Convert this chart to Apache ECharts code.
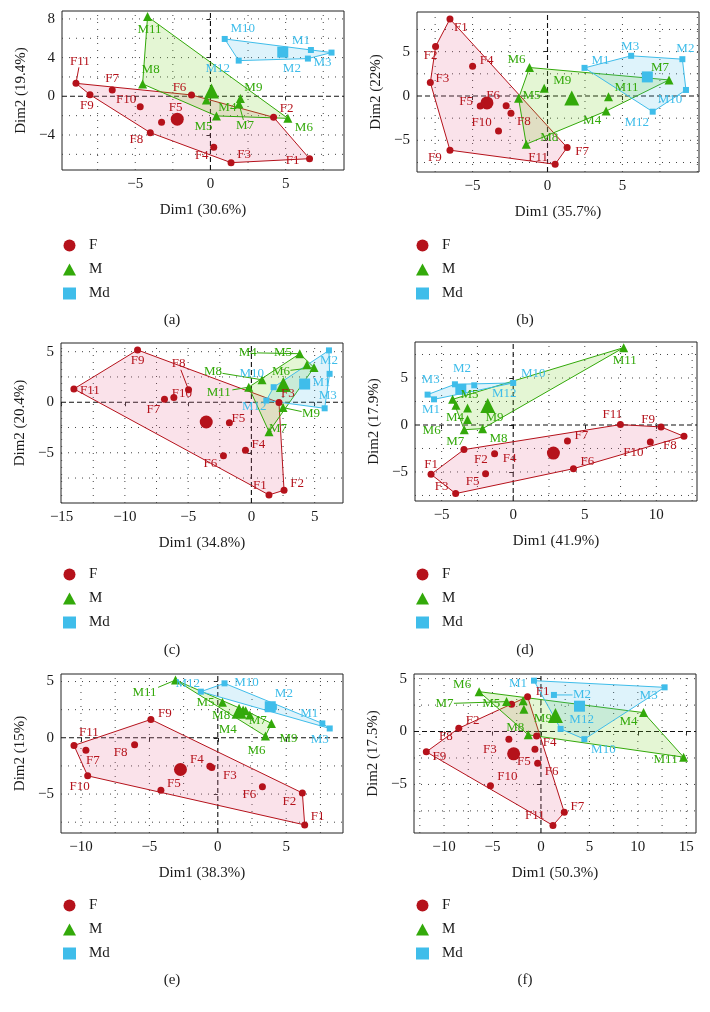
<!DOCTYPE html>
<html><head><meta charset="utf-8">
<script src="https://cdn.jsdelivr.net/npm/echarts@6/dist/echarts.min.js"></script>
<style>html,body{margin:0;padding:0;background:#fff}#c{width:710px;height:1012px}</style>
</head><body><div id="c"></div>
<script>
// ---------- data ----------
const F_NAMES = ['F1','F2','F3','F4','F5','F6','F7','F8','F9','F10','F11'];
const M_NAMES = ['M4','M5','M6','M7','M8','M9','M11'];
const MD_NAMES = ['M1','M2','M3','M10','M12'];
const GROUPS = ['F','M','Md'];

// panel (a)
const a_F  = [[6.59,-6.45],[4.2,-2.17],[1.37,-6.86],[0.22,-5.28],[-3.25,-2.69],[-1.26,0.14],[-6.53,0.66],[-4.0,-3.76],[-8.01,0.17],[-4.67,-1.07],[-8.94,1.34]];
const a_M  = [[-0.27,-0.38],[0.4,-2.03],[5.15,-2.28],[1.9,-0.79],[-4.51,1.28],[1.99,-0.24],[-4.18,8.24]];
const a_Md = [[6.68,4.79],[6.48,3.9],[8.05,4.52],[0.95,5.93],[1.88,3.69]];
// panel (b)
const b_F  = [[-6.51,8.68],[-7.47,5.58],[-7.82,1.51],[-5.0,3.36],[-4.49,-1.13],[-2.76,-1.09],[1.31,-5.81],[-2.44,-1.96],[-6.51,-6.11],[-3.27,-3.96],[0.51,-7.7]];
const b_M  = [[3.91,-1.7],[-1.93,-0.26],[-1.2,3.21],[8.11,1.81],[-1.42,-5.43],[-0.22,0.87],[4.07,-0.08]];
const b_Md = [[2.47,3.17],[9.0,4.15],[5.58,4.53],[9.24,0.68],[7.02,-1.77]];
// panel (c)
const c_F  = [[1.39,-9.17],[2.58,-8.71],[2.18,-0.03],[-0.47,-4.74],[-1.74,-2.02],[-2.21,-5.3],[-6.87,0.3],[-4.97,1.23],[-9.0,5.17],[-6.13,0.46],[-14.03,1.32]];
const c_M  = [[3.82,4.8],[4.39,3.71],[4.95,3.44],[1.39,-2.91],[0.84,2.22],[2.5,-0.53],[-0.21,1.49]];
const c_Md = [[6.18,2.81],[6.13,5.13],[5.79,-0.6],[1.76,1.49],[1.18,0.17]];
// panel (d)
const d_F  = [[-5.74,-5.25],[-3.44,-2.62],[-4.02,-7.3],[-1.3,-3.05],[-1.93,-5.18],[4.21,-4.65],[3.79,-1.7],[11.93,-1.21],[10.33,-0.21],[9.58,-1.81],[7.49,0.04]];
const d_M  = [[-4.0,2.09],[-3.19,1.81],[-4.23,2.73],[-3.42,-0.5],[-2.14,-0.39],[-3.19,0.57],[7.72,8.23]];
const d_Md = [[-5.53,2.73],[-4.07,4.33],[-5.98,3.23],[0.0,4.47],[-2.72,4.22]];
// panel (e)
const e_F  = [[6.35,-7.74],[6.18,-4.9],[-0.44,-2.64],[-0.58,-2.52],[-4.16,-4.66],[3.26,-4.36],[-9.64,-1.1],[-6.08,-0.62],[-4.89,1.63],[-9.51,-3.38],[-10.51,-0.68]];
const e_M  = [[2.34,2.02],[0.34,3.15],[3.48,0.15],[2.04,2.4],[1.85,2.46],[3.92,1.28],[-3.09,5.13]];
const e_Md = [[7.64,1.28],[4.1,2.75],[8.18,0.83],[0.49,4.84],[-1.24,4.1]];
// panel (f)
const f_F  = [[-1.38,3.3],[-3.03,2.58],[-3.31,-0.72],[-0.45,-0.41],[-0.62,-1.67],[-0.34,-2.99],[2.41,-7.64],[-8.48,0.31],[-11.83,-1.92],[-5.21,-5.13],[1.24,-8.87]];
const f_M  = [[10.59,1.79],[-1.83,2.92],[-6.38,3.77],[-3.55,2.83],[-1.31,-0.31],[-1.76,2.11],[14.72,-2.42]];
const f_Md = [[-0.72,4.81],[1.34,3.46],[12.76,4.18],[4.48,-0.72],[2.03,0.25]];

// tick labels
const a_xTicks=[-5,0,5],   a_yTicks=[-4,0,4,8];
const b_xTicks=[-5,0,5],   b_yTicks=[-5,0,5];
const c_xTicks=[-15,-10,-5,0,5], c_yTicks=[-5,0,5];
const d_xTicks=[-5,0,5,10], d_yTicks=[-5,0,5];
const e_xTicks=[-10,-5,0,5], e_yTicks=[-5,0,5];
const f_xTicks=[-10,-5,0,5,10,15], f_yTicks=[-5,0,5];

const X_TITLES=['Dim1 (30.6%)','Dim1 (35.7%)','Dim1 (34.8%)','Dim1 (41.9%)','Dim1 (38.3%)','Dim1 (50.3%)'];
const Y_TITLES=['Dim2 (19.4%)','Dim2 (22%)','Dim2 (20.4%)','Dim2 (17.9%)','Dim2 (15%)','Dim2 (17.5%)'];
const CAPTIONS=['(a)','(b)','(c)','(d)','(e)','(f)'];

// ---------- presentation ----------
const LABEL_OFF = {
 a:{F1:[-17,2],F2:[13,-9],F3:[13,-8],F4:[-12,8],F5:[14,-15],F6:[-12,-7],F7:[0,-11],F8:[-14,7],F9:[-3,11],F10:[-14,-7],F11:[4,-22],
    M4:[21,8],M5:[-13,11],M6:[16,9],M7:[6,22],M8:[8,-14],M9:[13,-11],M11:[2,13],
    M1:[-10,-9],M2:[-16,10],M3:[-9,10],M10:[18,-10],M12:[-21,8]},
 b:{F1:[11,9],F2:[-5,9],F3:[12,-4],F4:[14,-6],F5:[-14,-4],F6:[-13,-10],F7:[15,4],F8:[13,8],F9:[-15,7],F10:[-17,-9],F11:[-17,-7],
    M4:[-14,10],M5:[13,-3],M6:[-13,-8],M7:[-9,-12],M8:[23,-7],M9:[18,-8],M11:[18,-9],
    M1:[16,-7],M2:[3,-11],M3:[-1,-9],M10:[-16,10],M12:[-16,11]},
 c:{F1:[-9,-9],F2:[13,-7],F3:[9,-9],F4:[13,-6],F5:[9,-4],F6:[-13,8],F7:[-11,10],F8:[-10,-26],F9:[0,11],F10:[8,-4],F11:[16,2],
    M4:[-52,-1],M5:[-24,-12],M6:[-33,4],M7:[9,-3],M8:[-49,-8],M9:[28,6],M11:[-30,5],
    M1:[-8,9],M2:[0,10],M3:[3,-13],M10:[-22,-14],M12:[-12,6]},
 d:{F1:[0,-10],F2:[17,10],F3:[-14,-7],F4:[15,5],F5:[-13,8],F6:[14,-7],F7:[14,-5],F8:[-14,9],F9:[-13,-7],F10:[-17,11],F11:[-8,-10],
    M4:[-1,12],M5:[2,-13],M6:[-21,31],M7:[-9,12],M8:[16,10],M9:[27,-2],M11:[1,13],
    M1:[-3,10],M2:[7,-16],M3:[3,-15],M10:[20,-9],M12:[30,8]},
 e:{F1:[13,-8],F2:[-13,9],F3:[18,8],F4:[-13,-7],F5:[13,-7],F6:[-13,8],F7:[7,10],F8:[-14,8],F9:[14,-6],F10:[-8,11],F11:[15,-13],
    M4:[-22,15],M5:[-17,0],M6:[-9,14],M7:[12,10],M8:[-22,5],M9:[17,15],M11:[-31,13],
    M1:[-13,-10],M2:[10,-13],M3:[-10,11],M10:[22,-1],M12:[-13,-8]},
 f:{F1:[15,-5],F2:[-39,16],F3:[-19,10],F4:[13,7],F5:[-11,12],F6:[14,8],F7:[13,-6],F8:[-13,8],F9:[13,5],F10:[17,-9],F11:[-18,-10],
    M4:[-15,9],M5:[-32,3],M6:[-17,-7],M7:[-62,2],M8:[-13,-7],M9:[19,9],M11:[-18,2],
    M1:[-16,3],M2:[28,0],M3:[-16,8],M10:[19,10],M12:[21,-9]}
};
const LEADERS = {a:['F11','M7'], b:[], c:['F8','M4','M6','M8','M11','M9'], d:[], e:['M11'], f:['M7','M2']};

const PANELS = [
 {key:'a', data:[a_F,a_M,a_Md], xt:a_xTicks, yt:a_yTicks, left:62, top:11, w:282, h:159, xr:[-9.87,8.88], yr:[-7.62,8.82], xs:2.5, ys:2, lx:63, ly:238, cx:172, cy:320},
 {key:'b', data:[b_F,b_M,b_Md], xt:b_xTicks, yt:b_yTicks, left:417, top:12, w:282, h:160, xr:[-8.71,10.11], yr:[-8.57,9.47], xs:2.5, ys:2.5, lx:416, ly:238, cx:525, cy:320},
 {key:'c', data:[c_F,c_M,c_Md], xt:c_xTicks, yt:c_yTicks, left:61, top:343, w:282, h:160, xr:[-15.05,7.24], yr:[-9.97,5.86], xs:2.5, ys:2.5, lx:63, ly:567, cx:172, cy:650},
 {key:'d', data:[d_F,d_M,d_Md], xt:d_xTicks, yt:d_yTicks, left:415, top:342, w:282, h:159, xr:[-6.86,12.84], yr:[-8.09,8.83], xs:2.5, ys:2.5, lx:416, ly:567, cx:525, cy:650},
 {key:'e', data:[e_F,e_M,e_Md], xt:e_xTicks, yt:e_yTicks, left:61, top:674, w:282, h:159, xr:[-11.46,9.15], yr:[-8.46,5.67], xs:2.5, ys:2.5, lx:63, ly:898, cx:172, cy:980},
 {key:'f', data:[f_F,f_M,f_Md], xt:f_xTicks, yt:f_yTicks, left:414, top:674, w:282, h:159, xr:[-13.1,16.0], yr:[-9.59,5.44], xs:2.5, ys:2.5, lx:416, ly:898, cx:525, cy:980}
];
const NAMES = [F_NAMES, M_NAMES, MD_NAMES];
const COLORS = ['#B5121B','#33A90A','#3FBDEA'];
const FILLS = ['rgba(232,110,150,0.20)','rgba(120,210,40,0.20)','rgba(70,190,235,0.18)'];
const SYMBOLS = ['circle','triangle','rect'];
const SIZES = [7,9,6];
const MEAN_SIZES = [13,15,11];
const FONT = "'Liberation Serif','DejaVu Serif',serif";
const TXT = '#1a1a1a';

function hull(pts){
  const p = pts.slice().sort((a,b)=>a[0]-b[0]||a[1]-b[1]);
  const cross=(o,a,b)=>(a[0]-o[0])*(b[1]-o[1])-(a[1]-o[1])*(b[0]-o[0]);
  const lo=[],up=[];
  for(const q of p){while(lo.length>=2&&cross(lo[lo.length-2],lo[lo.length-1],q)<=0)lo.pop();lo.push(q);}
  for(let i=p.length-1;i>=0;i--){const q=p[i];while(up.length>=2&&cross(up[up.length-2],up[up.length-1],q)<=0)up.pop();up.push(q);}
  up.pop();lo.pop();return lo.concat(up);
}
const mean = pts => [pts.reduce((s,q)=>s+q[0],0)/pts.length, pts.reduce((s,q)=>s+q[1],0)/pts.length];
const minus = v => String(v).replace('-', '\u2212');

const option = {animation:false, backgroundColor:'#fff', grid:[], xAxis:[], yAxis:[], series:[], legend:[], graphic:[]};

PANELS.forEach((P, i) => {
  option.grid.push({left:P.left, top:P.top, width:P.w, height:P.h, show:true, borderColor:'#222', borderWidth:1, backgroundColor:'transparent', containLabel:false});
  option.xAxis.push({gridIndex:i, type:'value', min:P.xr[0], max:P.xr[1],
    axisLine:{show:false}, splitLine:{show:false},
    axisTick:{show:true, length:4, customValues:P.xt, lineStyle:{color:'#222'}},
    axisLabel:{customValues:P.xt, formatter:minus, color:TXT, fontFamily:FONT, fontSize:15, margin:7},
    name:X_TITLES[i], nameLocation:'middle', nameGap:33, nameTextStyle:{color:TXT, fontFamily:FONT, fontSize:15}});
  option.yAxis.push({gridIndex:i, type:'value', min:P.yr[0], max:P.yr[1],
    axisLine:{show:false}, splitLine:{show:false},
    axisTick:{show:true, length:4, customValues:P.yt, lineStyle:{color:'#222'}},
    axisLabel:{customValues:P.yt, formatter:minus, color:TXT, fontFamily:FONT, fontSize:15, margin:7},
    name:Y_TITLES[i], nameLocation:'middle', nameGap:33, nameTextStyle:{color:TXT, fontFamily:FONT, fontSize:15}});

  // grid lines
  option.series.push({type:'custom', xAxisIndex:i, yAxisIndex:i, silent:true, z:1, clip:false,
    data:[[P.xr[0],P.yr[0]]],
    renderItem:(params, api) => {
      const ch=[];
      const dot={stroke:'#444', lineWidth:1, lineDash:[1,6]};
      for(let k=Math.ceil(P.xr[0]/P.xs); k*P.xs<=P.xr[1]; k++){
        const v=k*P.xs; if(Math.abs(v)<1e-9) continue;
        const a=api.coord([v,P.yr[0]]), b=api.coord([v,P.yr[1]]);
        ch.push({type:'line', shape:{x1:a[0],y1:a[1],x2:b[0],y2:b[1]}, style:dot});
      }
      for(let k=Math.ceil(P.yr[0]/P.ys); k*P.ys<=P.yr[1]; k++){
        const v=k*P.ys; if(Math.abs(v)<1e-9) continue;
        const a=api.coord([P.xr[0],v]), b=api.coord([P.xr[1],v]);
        ch.push({type:'line', shape:{x1:a[0],y1:a[1],x2:b[0],y2:b[1]}, style:dot});
      }
      const dash={stroke:'#111', lineWidth:1.1, lineDash:[5,3]};
      let a=api.coord([0,P.yr[0]]), b=api.coord([0,P.yr[1]]);
      ch.push({type:'line', shape:{x1:a[0],y1:a[1],x2:b[0],y2:b[1]}, style:dash});
      a=api.coord([P.xr[0],0]); b=api.coord([P.xr[1],0]);
      ch.push({type:'line', shape:{x1:a[0],y1:a[1],x2:b[0],y2:b[1]}, style:dash});
      return {type:'group', children:ch};
    }});

  // hulls
  P.data.forEach((pts, g) => {
    const h = hull(pts);
    option.series.push({type:'custom', xAxisIndex:i, yAxisIndex:i, silent:true, z:2, clip:false,
      data:[h[0]],
      renderItem:(params, api) => ({type:'polygon', shape:{points:h.map(q=>api.coord(q))},
        style:{fill:FILLS[g], stroke:COLORS[g], lineWidth:1}})});
  });

  // leader lines
  const off = LABEL_OFF[P.key];
  option.series.push({type:'custom', xAxisIndex:i, yAxisIndex:i, silent:true, z:3, clip:false,
    data:[[P.xr[0],P.yr[0]]],
    renderItem:(params, api) => {
      const ch=[];
      LEADERS[P.key].forEach(nm => {
        const g = NAMES.findIndex(arr=>arr.includes(nm));
        const q = P.data[g][NAMES[g].indexOf(nm)];
        const p = api.coord(q), o = off[nm];
        const c = [p[0]+o[0], p[1]+o[1]];
        const hw = nm.length*4.2+1, hh = 6;
        const dx = p[0]-c[0], dy = p[1]-c[1];
        const t = Math.min(Math.abs(dx)>0.01?hw/Math.abs(dx):1e9, Math.abs(dy)>0.01?hh/Math.abs(dy):1e9);
        if (t>=1) return;
        ch.push({type:'line', shape:{x1:p[0],y1:p[1],x2:c[0]+dx*t,y2:c[1]+dy*t}, style:{stroke:COLORS[g], lineWidth:1}});
      });
      return {type:'group', children:ch};
    }});

  // points + means
  P.data.forEach((pts, g) => {
    const names = NAMES[g];
    const items = pts.map((q, j) => ({name:names[j], value:q}));
    items.push({name:'', value:mean(pts), symbolSize:MEAN_SIZES[g], label:{show:false}});
    option.series.push({type:'scatter', name:GROUPS[g], xAxisIndex:i, yAxisIndex:i, z:4,
      symbol:SYMBOLS[g], symbolSize:SIZES[g], itemStyle:{color:COLORS[g], opacity:1},
      label:{show:true, position:'inside', formatter:'{b}', color:COLORS[g], fontFamily:FONT, fontSize:13},
      labelLayout:(prm) => { const o = off[names[prm.dataIndex]]; return o ? {dx:o[0], dy:o[1], hideOverlap:false} : {}; },
      emphasis:{disabled:true},
      data:items});
  });

  option.legend.push({left:P.lx, top:P.ly, orient:'vertical', padding:0, itemGap:9, itemWidth:13, itemHeight:12,
    selectedMode:false,
    data:[{name:'F',icon:'circle'},{name:'M',icon:'triangle'},{name:'Md',icon:'rect'}],
    textStyle:{color:TXT, fontFamily:FONT, fontSize:15, padding:[0,0,0,8]}});
  option.graphic.push({type:'text', x:P.cx, y:P.cy,
    style:{text:CAPTIONS[i], fill:TXT, font:"15px 'Liberation Serif', serif", textAlign:'center', textVerticalAlign:'middle', align:'center', verticalAlign:'middle'}});
});

const chart = echarts.init(document.getElementById('c'), null, {renderer:'canvas'});
chart.setOption(option);
</script></body></html>
